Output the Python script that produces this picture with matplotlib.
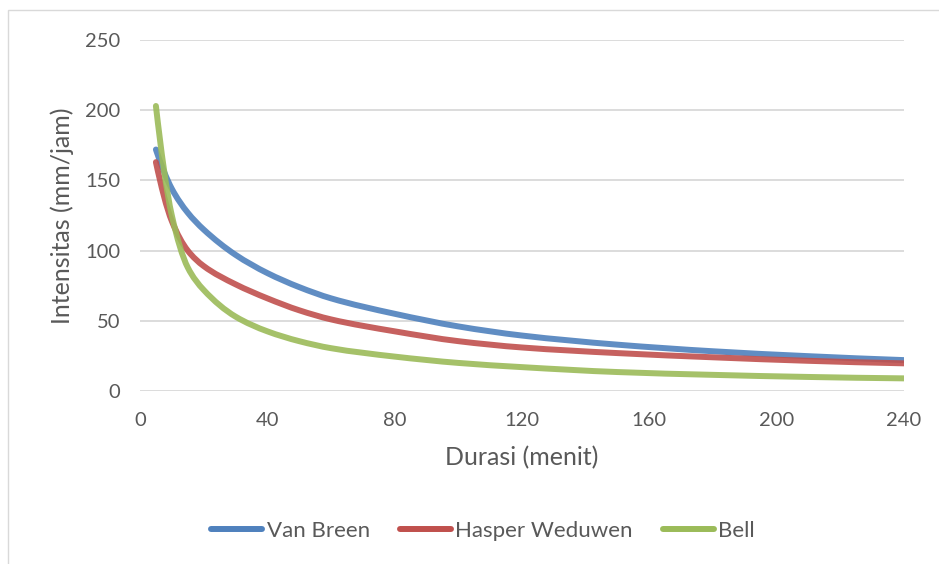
import matplotlib
matplotlib.use('Agg')
import matplotlib.pyplot as plt
from matplotlib.patches import Rectangle, PathPatch
from matplotlib.path import Path

plt.rcParams['font.family'] = ['Lato', 'DejaVu Sans']

# Durasi hujan (menit) dan intensitas tiap metode (mm/jam)
durasi = [5, 10, 15, 20, 30, 40, 50, 60, 80, 100, 120, 150, 180, 210, 240]
van_breen = [172, 144, 127, 115, 97, 84, 74, 66, 55, 46, 39.5, 33, 28.3, 24.8, 22]
hasper_weduwen = [163, 121, 100, 89, 76, 66, 57.5, 51, 42.5, 35.5, 31, 27, 24, 21.5, 19.7]
bell = [203, 125, 88, 72, 53, 42.5, 35.5, 30.5, 24.5, 20, 17, 13.5, 11.5, 10, 9]

series = [('Van Breen', van_breen, '#4F81BD'),
          ('Hasper Weduwen', hasper_weduwen, '#C0504D'),
          ('Bell', bell, '#9BBB59')]

x_ticks = [0, 40, 80, 120, 160, 200, 240]
y_ticks = [0, 50, 100, 150, 200, 250]

text_color = '#595959'
grid_color = '#d9d9d9'
lw = 4.3


def smooth_path(xs, ys):
    # smoothed line through every point (monotone cubic, drawn as Bezier)
    n = len(xs)
    h = [xs[k + 1] - xs[k] for k in range(n - 1)]
    d = [(ys[k + 1] - ys[k]) / h[k] for k in range(n - 1)]
    m = [0.0] * n
    for k in range(1, n - 1):
        if d[k - 1] * d[k] > 0:
            w1 = 2 * h[k] + h[k - 1]
            w2 = h[k] + 2 * h[k - 1]
            m[k] = (w1 + w2) / (w1 / d[k - 1] + w2 / d[k])
    m[0] = ((2 * h[0] + h[1]) * d[0] - h[0] * d[1]) / (h[0] + h[1])
    if m[0] * d[0] <= 0:
        m[0] = 0.0
    m[-1] = ((2 * h[-1] + h[-2]) * d[-1] - h[-1] * d[-2]) / (h[-1] + h[-2])
    if m[-1] * d[-1] <= 0:
        m[-1] = 0.0
    verts = [(xs[0], ys[0])]
    codes = [Path.MOVETO]
    for k in range(n - 1):
        verts += [(xs[k] + h[k] / 3, ys[k] + m[k] * h[k] / 3),
                  (xs[k + 1] - h[k] / 3, ys[k + 1] - m[k + 1] * h[k] / 3),
                  (xs[k + 1], ys[k + 1])]
        codes += [Path.CURVE4] * 3
    return Path(verts, codes)


fig = plt.figure(figsize=(9.39, 5.64), dpi=100)
ax = fig.add_axes([140 / 939, 1 - 391 / 564, 764 / 939, 351 / 564])

# chart area border
fig.patches.append(Rectangle((8 / 939, -0.05), 1.1, 1.05 - 10 / 564,
                             transform=fig.transFigure, fill=False,
                             edgecolor='#d9d9d9', linewidth=1.0))

for name, vals, color in series:
    ax.add_patch(PathPatch(smooth_path(durasi, vals), facecolor='none',
                           edgecolor=color, lw=lw, capstyle='round',
                           joinstyle='round', alpha=0.9, zorder=3))
    # legend handle only
    ax.plot([], [], color=color, lw=lw, label=name, solid_capstyle='round')

ax.set_xlim(0, 240)
ax.set_ylim(0, 250)
ax.set_xticks(x_ticks)
ax.set_yticks(y_ticks)
ax.tick_params(length=0, labelsize=14.5, colors=text_color)
ax.tick_params(axis='x', pad=15)
ax.tick_params(axis='y', pad=14)
ax.grid(axis='y', color=grid_color, lw=1.3)
ax.set_axisbelow(True)
for s in ax.spines.values():
    s.set_visible(False)

ax.set_xlabel('Durasi (menit)', fontsize=18, color=text_color, labelpad=12)
ax.set_ylabel('Intensitas (mm/jam)', fontsize=18, color=text_color, labelpad=8)

leg = fig.legend(loc='center', bbox_to_anchor=(483 / 939, 1 - 531 / 564), ncol=3,
                 frameon=False, fontsize=16, handlelength=2.3, handletextpad=0.2,
                 columnspacing=1.35, labelcolor=text_color)

fig.savefig('out.png', dpi=100)
